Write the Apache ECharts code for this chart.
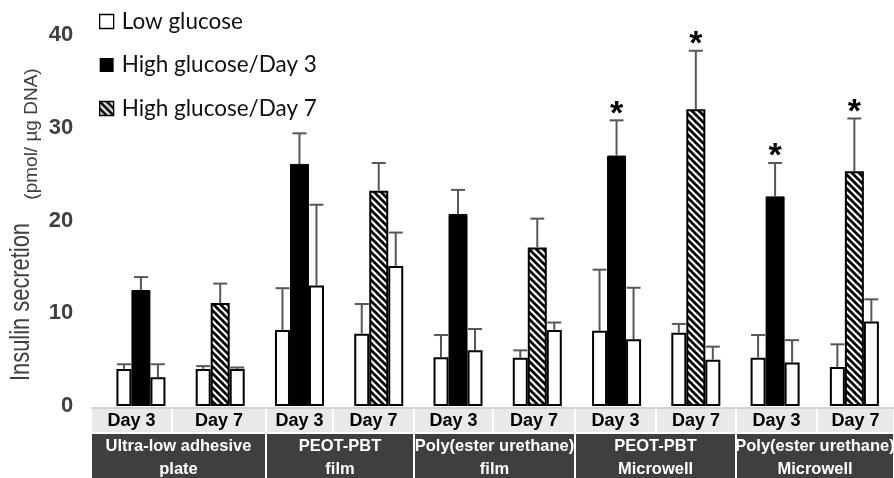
<!DOCTYPE html>
<html>
<head>
<meta charset="utf-8">
<script src="https://cdn.jsdelivr.net/npm/echarts@6/dist/echarts.min.js"></script>
<style>
  html, body { margin: 0; padding: 0; background: #fff; }
  #chart { width: 894px; height: 478px; }
</style>
</head>
<body>
<div id="chart"></div>
<script>
// ---- data -------------------------------------------------------------
const materials = [
  'Ultra-low adhesive\nplate',
  'PEOT-PBT\nfilm',
  'Poly(ester urethane)\nfilm',
  'PEOT-PBT\nMicrowell',
  'Poly(ester urethane)\nMicrowell'
];
const days = ['Day 3', 'Day 7'];

// insulin secretion, pmol / µg DNA (mean and upper error)
const lowBefore      = [4.0, 4.0, 8.2, 7.8, 5.25, 5.2, 8.1, 7.9, 5.2, 4.2];
const lowBeforeErr   = [0.5, 0.3, 4.5, 3.2, 2.4, 0.8, 6.6, 0.95, 2.45, 2.45];
const highGlucose    = [12.5, 11.1, 26.1, 23.2, 20.7, 17.1, 27.0, 32.0, 22.6, 25.3];
const highGlucoseErr = [1.4, 2.1, 3.3, 3.0, 2.6, 3.1, 3.8, 6.3, 3.6, 5.7];
const lowAfter       = [3.1, 4.0, 13.0, 15.1, 6.0, 8.2, 7.2, 5.0, 4.7, 9.1];
const lowAfterErr    = [1.4, 0.15, 8.7, 3.6, 2.3, 0.8, 5.55, 1.4, 2.4, 2.4];
const significant    = [false, false, false, false, false, false, true, true, true, true];

const yTicks = [0, 10, 20, 30, 40];
const legendNames = ['Low glucose', 'High glucose/Day 3', 'High glucose/Day 7'];
const yTitle = 'Insulin secretion';
const yUnit = '(pmol/ µg DNA)';

// ---- derived ----------------------------------------------------------
const dayLabels = materials.flatMap(() => days);
const categories = materials.flatMap(m => days.map(d => m.replace('\n', ' ') + ' | ' + d));
const highDay3 = highGlucose.map((v, i) => dayLabels[i] === days[0] ? v : '-');
const highDay7 = highGlucose.map((v, i) => dayLabels[i] === days[1] ? v : '-');

// ---- layout / style ---------------------------------------------------
const LOW_W = 15, HIGH_W = 19;
const SLOT = (LOW_W + HIGH_W) / 2;
const ERR_COLOR = '#575757';
const AXIS_FONT = '"Liberation Sans", Arial, sans-serif';
const DAY_EDGES = [91, 172, 266, 333, 414, 493, 575, 656, 736, 817, 894];
const MAT_EDGES = [91, 266, 414, 575, 736, 894];
const DAY_ROW = { top: 408, h: 25 };
const MAT_ROW = { top: 433, h: 46 };

function hatchCanvas() {
  const s = 7;
  const c = document.createElement('canvas');
  c.width = c.height = s;
  const g = c.getContext('2d');
  g.fillStyle = '#fff';
  g.fillRect(0, 0, s, s);
  g.strokeStyle = '#000';
  g.lineWidth = 2.7;
  for (let k = -1; k <= 1; k++) {
    g.beginPath();
    g.moveTo(k * s - 1, -1);
    g.lineTo(k * s + s + 1, s + 1);
    g.stroke();
  }
  return c;
}
const hatch = { image: hatchCanvas(), repeat: 'repeat' };

function errorSeries(means, errs, offset, marks) {
  return {
    type: 'custom',
    silent: true,
    z: 5,
    data: means.map((m, i) => [i, m, errs[i], marks && marks[i] ? 1 : 0]),
    renderItem(params, api) {
      const i = api.value(0), m = api.value(1), e = api.value(2);
      const base = api.coord([i, m]);
      const top = api.coord([i, m + e]);
      const x = base[0] + offset;
      const half = 7;
      const children = [
        { type: 'line', shape: { x1: x, y1: base[1], x2: x, y2: top[1] },
          style: { stroke: ERR_COLOR, lineWidth: 2 } },
        { type: 'line', shape: { x1: x - half, y1: top[1], x2: x + half, y2: top[1] },
          style: { stroke: ERR_COLOR, lineWidth: 2 } }
      ];
      if (api.value(3)) {
        children.push({
          type: 'text', x: x, y: top[1] - 6,
          style: { text: '*', font: 'bold 34px ' + AXIS_FONT, fill: '#000',
                   align: 'center', verticalAlign: 'middle' }
        });
      }
      return { type: 'group', children };
    }
  };
}

// category table under the plot
function tableGraphics() {
  const els = [];
  dayLabels.forEach((lab, i) => {
    const x0 = DAY_EDGES[i], x1 = DAY_EDGES[i + 1];
    els.push({ type: 'rect', shape: { x: x0, y: DAY_ROW.top, width: x1 - x0, height: DAY_ROW.h },
      style: { fill: '#e9e9e9', stroke: '#fff', lineWidth: 2 } });
    els.push({ type: 'text', x: (x0 + x1) / 2, y: DAY_ROW.top + DAY_ROW.h / 2 + 1,
      style: { text: lab, font: 'bold 18px ' + AXIS_FONT, fill: '#000',
               align: 'center', verticalAlign: 'middle' } });
  });
  els.push({ type: 'line', shape: { x1: DAY_EDGES[0], y1: DAY_ROW.top, x2: 894, y2: DAY_ROW.top },
    style: { stroke: '#c4c4c4', lineWidth: 1.5 } });
  materials.forEach((lab, i) => {
    const x0 = MAT_EDGES[i], x1 = MAT_EDGES[i + 1];
    els.push({ type: 'rect', shape: { x: x0, y: MAT_ROW.top, width: x1 - x0, height: MAT_ROW.h },
      style: { fill: '#3f3f3f', stroke: '#fff', lineWidth: 2 } });
    els.push({ type: 'text', x: (x0 + x1) / 2, y: MAT_ROW.top + MAT_ROW.h / 2 + 2,
      style: { text: lab, font: 'bold 16.5px ' + AXIS_FONT, fill: '#fff', lineHeight: 23,
               align: 'center', verticalAlign: 'middle' } });
  });
  return els;
}

// rotated y-axis title (condensed main part, smaller unit part)
function yTitleGraphics() {
  return [
    { type: 'text', x: 22, y: 302, rotation: Math.PI / 2, scaleX: 0.81,
      style: { text: yTitle, font: '27px ' + AXIS_FONT, fill: '#404040',
               align: 'center', verticalAlign: 'middle' } },
    { type: 'text', x: 32, y: 134, rotation: Math.PI / 2,
      style: { text: yUnit, font: '19px ' + AXIS_FONT, fill: '#404040',
               align: 'center', verticalAlign: 'middle' } }
  ];
}

const chart = echarts.init(document.getElementById('chart'), null, { renderer: 'canvas' });
chart.setOption({
  animation: false,
  backgroundColor: '#fff',
  grid: { left: 101.3, width: 803, top: 35, height: 371, containLabel: false },
  legend: {
    data: [
      { name: legendNames[0], itemStyle: { color: '#fff', borderColor: '#000', borderWidth: 1.3 } },
      { name: legendNames[1], itemStyle: { color: '#000', borderColor: '#000', borderWidth: 0 } },
      { name: legendNames[2], itemStyle: { color: hatch, borderColor: '#000', borderWidth: 1.3 } }
    ],
    orient: 'vertical',
    left: 99, top: 10,
    padding: 0,
    icon: 'rect',
    itemWidth: 14, itemHeight: 14, itemGap: 20.5,
    selectedMode: false,
    textStyle: { fontFamily: 'Lato, "Open Sans", sans-serif', fontSize: 22.5, lineHeight: 22,
                 color: '#111', padding: [0, 0, 0, 3] }
  },
  xAxis: {
    type: 'category',
    data: categories,
    axisLine: { show: false },
    axisTick: { show: false },
    axisLabel: { show: false },
    splitLine: { show: false }
  },
  yAxis: {
    type: 'value',
    min: yTicks[0], max: yTicks[yTicks.length - 1], interval: yTicks[1] - yTicks[0],
    axisLine: { show: false },
    axisTick: { show: false },
    splitLine: { show: false },
    axisLabel: { margin: 28, fontSize: 22, fontWeight: 'bold', color: '#404040', fontFamily: AXIS_FONT }
  },
  series: [
    { name: legendNames[0], type: 'bar', data: lowBefore, barWidth: LOW_W, barGap: '0%',
      itemStyle: { color: '#fff', borderColor: '#000', borderWidth: 2 } },
    { name: legendNames[1], type: 'bar', stack: 'high', data: highDay3, barWidth: HIGH_W, barGap: '0%',
      itemStyle: { color: '#000', borderColor: '#000', borderWidth: 1 } },
    { name: legendNames[2], type: 'bar', stack: 'high', data: highDay7, barWidth: HIGH_W, barGap: '0%',
      itemStyle: { color: hatch, borderColor: '#000', borderWidth: 2 } },
    { name: legendNames[0], type: 'bar', data: lowAfter, barWidth: LOW_W, barGap: '0%',
      itemStyle: { color: '#fff', borderColor: '#000', borderWidth: 2 } },
    errorSeries(lowBefore, lowBeforeErr, -SLOT),
    errorSeries(highGlucose, highGlucoseErr, 0, significant),
    errorSeries(lowAfter, lowAfterErr, SLOT)
  ],
  graphic: tableGraphics().concat(yTitleGraphics())
});
</script>
</body>
</html>
